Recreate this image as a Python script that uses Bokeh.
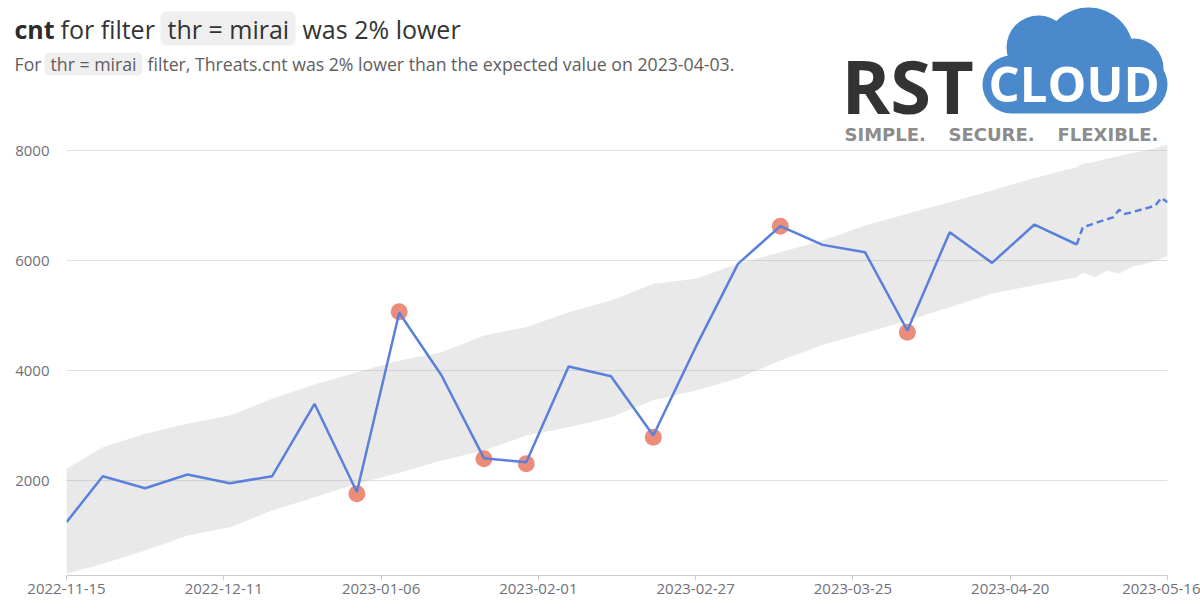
import pandas as pd
from bokeh.plotting import figure
from bokeh.layouts import column
from bokeh.models import (Range1d, FixedTicker, DatetimeTickFormatter, Label,
                          BoxAnnotation, BasicTickFormatter)
from bokeh.embed import file_html
from bokeh.resources import INLINE

# ---------------- data ----------------
dates = ["2022-11-15", "2022-11-21", "2022-11-28", "2022-12-05", "2022-12-12",
         "2022-12-19", "2022-12-26", "2023-01-02", "2023-01-09", "2023-01-16",
         "2023-01-23", "2023-01-30", "2023-02-06", "2023-02-13", "2023-02-20",
         "2023-02-27", "2023-03-06", "2023-03-13", "2023-03-20", "2023-03-27",
         "2023-04-03", "2023-04-10", "2023-04-17", "2023-04-24", "2023-05-01"]
cnt = [1242, 2078, 1860, 2109, 1951, 2078, 3394, 1790, 5049, 3909,
       2406, 2330, 4073, 3897, 2818, 4424, 5939, 6624, 6284, 6151,
       4727, 6515, 5957, 6654, 6291]

anomaly_dates = ["2023-01-02", "2023-01-09", "2023-01-23", "2023-01-30",
                 "2023-02-20", "2023-03-13", "2023-04-03"]
anomaly_cnt = [1760, 5070, 2394, 2303, 2788, 6624, 4697]

forecast_dates = ["2023-05-01", "2023-05-02", "2023-05-03", "2023-05-04", "2023-05-05",
                  "2023-05-06", "2023-05-07", "2023-05-08", "2023-05-09", "2023-05-10",
                  "2023-05-11", "2023-05-12", "2023-05-13", "2023-05-14", "2023-05-15",
                  "2023-05-16"]
forecast_cnt = [6291, 6606, 6640, 6680, 6715, 6750, 6785, 6921, 6848, 6875,
                6905, 6935, 6965, 7000, 7139, 7060]

band_dates = dates + ["2023-05-02", "2023-05-04", "2023-05-06", "2023-05-08",
                      "2023-05-10", "2023-05-12", "2023-05-14", "2023-05-16"]
band_upper = [2212, 2606, 2848, 3030, 3182, 3485, 3745, 3970, 4180, 4333,
              4636, 4788, 5061, 5273, 5576, 5667, 5939, 6150, 6364, 6636,
              6848, 7061, 7273, 7500, 7697,
              7760, 7790, 7850, 7900, 7950, 7990, 8040, 8110]
band_lower = [303, 485, 727, 1000, 1151, 1454, 1697, 1939, 2140, 2364,
              2545, 2818, 2970, 3151, 3460, 3636, 3854, 4182, 4470, 4680,
              4909, 5152, 5400, 5550, 5697,
              5780, 5700, 5820, 5760, 5880, 5930, 5990, 6080]

x_tick_dates = ["2022-11-15", "2022-12-11", "2023-01-06", "2023-02-01",
                "2023-02-27", "2023-03-25", "2023-04-20", "2023-05-16"]
y_ticks = [2000, 4000, 6000, 8000]

title_bold = "cnt"
title_rest = "for filter"
filter_text = "thr = mirai"
title_tail = "was 2% lower"
sub_head = "For"
sub_tail = "filter, Threats.cnt was 2% lower than the expected value on 2023-04-03."

FONT = "Open Sans"
W = 1200
HH = 148          # header height (page px)
OVERLAP = 10      # chart canvas overlaps the header by this much
CT = HH - OVERLAP # chart canvas top (page px)
H = 614 - CT      # chart height

# ---------------- header (title + logo) ----------------
hdr = figure(width=W, height=HH, output_backend="svg", toolbar_location=None,
             x_range=Range1d(0, W), y_range=Range1d(0, HH),
             x_axis_location=None, y_axis_location=None,
             min_border=0, outline_line_color=None,
             background_fill_color="white", border_fill_color="white")
hdr.grid.visible = False
hdr.frame_align = False

def hy(y):
    return HH - y

def box(l, t, r, b, color, radius):
    hdr.add_layout(BoxAnnotation(left=l, right=r, top=hy(t), bottom=hy(b),
                                 fill_color=color, fill_alpha=1.0, line_color=None,
                                 border_radius=radius))

def label(x, baseline, text, size, color, style="normal", font=FONT, k=0.39):
    # text is anchored at its middle; k * size = distance from baseline to middle
    hdr.add_layout(Label(x=x, y=hy(baseline - k * size), text=text, text_font=font,
                         text_font_size=f"{size}px", text_font_style=style,
                         text_color=color, text_baseline="middle",
                         text_align="left"))

# chips
box(160, 11, 295, 45, "#efefef", 6)
box(44, 52, 142, 75, "#efefef", 5)

label(14, 38, title_bold, 25, "#2b2b2b", "bold")
label(60, 38, title_rest, 25, "#333333")
label(167, 38, filter_text, 25, "#333333")
label(302, 38, title_tail, 25, "#333333")

label(14, 70, sub_head, 17.7, "#5e5e5e")
label(50, 70, filter_text, 17.7, "#5e5e5e")
label(147, 70, sub_tail, 17.7, "#5e5e5e")

# logo
CLOUD_BLUE = "#4A89CB"
box(982, 55, 1167, 113, CLOUD_BLUE, 29)          # base pill
box(1006, 15, 1070, 79, CLOUD_BLUE, 32)          # left bump
box(1043, 7, 1133, 97, CLOUD_BLUE, 45)           # main bump
box(1103, 38, 1163, 98, CLOUD_BLUE, 30)          # right bump

label(841, 114, "RST", 74, "#333333", "bold")
label(988, 102, "CLOUD", 49, "white", "bold")
label(844, 140, "SIMPLE.", 18, "#8c8c8c", "bold", "DejaVu Sans", 0.35)
label(948, 140, "SECURE.", 18, "#8c8c8c", "bold", "DejaVu Sans", 0.35)
label(1057, 140, "FLEXIBLE.", 18, "#8c8c8c", "bold", "DejaVu Sans", 0.35)

# ---------------- chart ----------------
FRAME_TOP = 143
BL, BR, BT = 66, 33, FRAME_TOP - CT
BB = 614 - 575
PX_PER_UNIT = 330 / 6000          # from gridline spacing (2000 -> 8000 = 330 px)
y_lo = 2000 - (575 - 480) / PX_PER_UNIT
y_hi = 8000 + (150 - FRAME_TOP) / PX_PER_UNIT

p = figure(width=W, height=H, x_axis_type="datetime", output_backend="svg",
           toolbar_location=None,
           x_range=Range1d(pd.Timestamp(x_tick_dates[0]), pd.Timestamp(x_tick_dates[-1])),
           y_range=Range1d(y_lo, y_hi),
           min_border_left=BL, min_border_right=BR, min_border_top=BT, min_border_bottom=BB,
           outline_line_color=None, background_fill_alpha=0.0,
           border_fill_alpha=0.0)
p.frame_align = False
p.margin = (-OVERLAP, 0, 0, 0)

p.varea(x=pd.to_datetime(band_dates), y1=band_lower, y2=band_upper,
        fill_color="#a8a8a8", fill_alpha=0.25)

p.scatter(x=pd.to_datetime(anomaly_dates), y=anomaly_cnt, size=17,
          fill_color="#EA8270", line_color=None, fill_alpha=0.92)

p.line(x=pd.to_datetime(dates), y=cnt, line_color="#5A80DB", line_width=2.5)
p.line(x=pd.to_datetime(forecast_dates), y=forecast_cnt, line_color="#5A80DB",
       line_width=2.5, line_dash="7 4")

tick_ms = [pd.Timestamp(d).timestamp() * 1000 for d in x_tick_dates]
p.xaxis.ticker = FixedTicker(ticks=tick_ms)
fmt = "%Y-%m-%d"
p.xaxis.formatter = DatetimeTickFormatter(milliseconds=fmt, seconds=fmt, minsec=fmt,
                                          minutes=fmt, hourmin=fmt, hours=fmt,
                                          days=fmt, months=fmt, years=fmt)
p.xaxis.axis_line_color = "#cccccc"
p.xaxis.major_tick_line_color = "#cccccc"
p.xaxis.major_tick_out = 5
p.xaxis.major_tick_in = 0
p.xaxis.minor_tick_line_color = None
p.xaxis.major_label_standoff = 3
p.xaxis.major_label_text_color = "#6E7079"
p.xaxis.major_label_text_font = FONT
p.xaxis.major_label_text_font_size = "15px"

p.yaxis.ticker = FixedTicker(ticks=y_ticks)
p.yaxis.formatter = BasicTickFormatter(use_scientific=False)
p.yaxis.axis_line_color = None
p.yaxis.major_tick_line_color = None
p.yaxis.minor_tick_line_color = None
p.yaxis.major_label_standoff = 11
p.yaxis.major_label_text_color = "#6E7079"
p.yaxis.major_label_text_font = FONT
p.yaxis.major_label_text_font_size = "15px"

p.xgrid.grid_line_color = None
p.ygrid.grid_line_color = "#e0e0e0"
p.ygrid.grid_line_width = 1

layout = column(hdr, p, spacing=0)
open("out.html", "w").write(file_html(layout, INLINE))
